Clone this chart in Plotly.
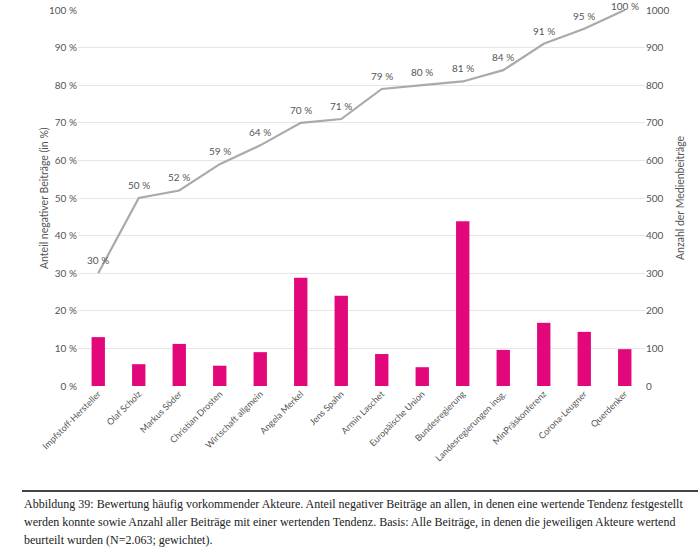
import plotly.graph_objects as go

categories = ["Impfstoff-Hersteller", "Olaf Scholz", "Markus Söder", "Christian Drosten",
              "Wirtschaft allgmein", "Angela Merkel", "Jens Spahn", "Armin Laschet",
              "Europäische Union", "Bundesregierung", "Landesregierungen insg.",
              "MinPräskonferenz", "Corona-Leugner", "Querdenker"]
anteil_negativ = [30, 50, 52, 59, 64, 70, 71, 79, 80, 81, 84, 91, 95, 100]
anzahl_beitraege = [130, 58, 112, 54, 90, 288, 240, 85, 50, 438, 96, 168, 144, 98]
left_ticks = [0, 10, 20, 30, 40, 50, 60, 70, 80, 90, 100]
right_ticks = [0, 100, 200, 300, 400, 500, 600, 700, 800, 900, 1000]
caption_lines = [
    "Abbildung 39: Bewertung häufig vorkommender Akteure. Anteil negativer Beiträge an allen, in denen eine wertende Tendenz festgestellt",
    "werden konnte sowie Anzahl aller Beiträge mit einer wertenden Tendenz. Basis: Alle Beiträge, in denen die jeweiligen Akteure wertend",
    "beurteilt wurden (N=2.063; gewichtet).",
]

W, H = 700, 551
L, T = 78, 10
R = W - 645
B = H - 386
pw, ph = W - L - R, H - T - B

def px_x(x):
    return (x - L) / pw

def px_y(y):
    return (H - B - y) / ph

FONT = "Lato, Noto Sans, sans-serif"
GREY_TXT = "#555555"

fig = go.Figure()
fig.add_trace(go.Bar(
    x=categories, y=anzahl_beitraege, yaxis="y2",
    marker=dict(color="#e2087c", line=dict(width=0)), width=0.33,
    showlegend=False,
))
fig.add_trace(go.Scatter(
    x=categories, y=anteil_negativ, yaxis="y", mode="lines",
    line=dict(color="#aaaaaa", width=2.2),
    showlegend=False, cliponaxis=False,
))
for c, v in zip(categories, anteil_negativ):
    fig.add_annotation(
        x=c, y=v, xref="x", yref="y", text=f"{v} %", showarrow=False,
        yshift=13 if v < 100 else 4, font=dict(family=FONT, size=10, color=GREY_TXT),
    )

fig.update_layout(
    width=W, height=H, margin=dict(l=L, r=R, t=T, b=B, autoexpand=False),
    paper_bgcolor="white", plot_bgcolor="white",
    font=dict(family=FONT, size=10, color=GREY_TXT),
    xaxis=dict(
        tickangle=-45, tickfont=dict(size=9, color=GREY_TXT), automargin=False,
        showgrid=False, showline=False, ticks="", range=[-0.5, len(categories) - 0.5],
    ),
    yaxis=dict(
        range=[0, 100], tickvals=left_ticks, ticktext=[f"{v} %" for v in left_ticks],
        showgrid=True, gridcolor="#e6e6e6", gridwidth=1, zeroline=False, automargin=False,
        tickfont=dict(size=10, color=GREY_TXT), ticks="", ticklen=0,
    ),
    yaxis2=dict(
        range=[0, 1000], tickvals=right_ticks, overlaying="y", side="right",
        showgrid=False, zeroline=False, tickfont=dict(size=10, color=GREY_TXT), automargin=False,
    ),
    bargap=0.67,
)

fig.add_annotation(text="Anteil negativer Beiträge (in %)", xref="paper", yref="paper",
                   x=px_x(36), y=px_y(198), textangle=-90, showarrow=False,
                   font=dict(family=FONT, size=10.5, color=GREY_TXT))
fig.add_annotation(text="Anzahl der Medienbeiträge", xref="paper", yref="paper",
                   x=px_x(688), y=px_y(198), textangle=-90, showarrow=False,
                   font=dict(family=FONT, size=10.5, color=GREY_TXT))

fig.add_shape(type="line", xref="paper", yref="paper",
              x0=px_x(22), x1=px_x(698), y0=px_y(491), y1=px_y(491),
              line=dict(color="#444444", width=2))

for i, line in enumerate(caption_lines):
    fig.add_annotation(
        text=line, xref="paper", yref="paper", x=px_x(22), y=px_y(504 + 18 * i),
        xanchor="left", yanchor="middle", showarrow=False, align="left",
        font=dict(family="Liberation Serif, serif", size=12, color="#222222"),
    )

fig.write_html(
    "out.html",
    config={"displayModeBar": False, "staticPlot": True},
    post_script="document.body.style.margin='0px';document.body.style.overflow='hidden';",
)
